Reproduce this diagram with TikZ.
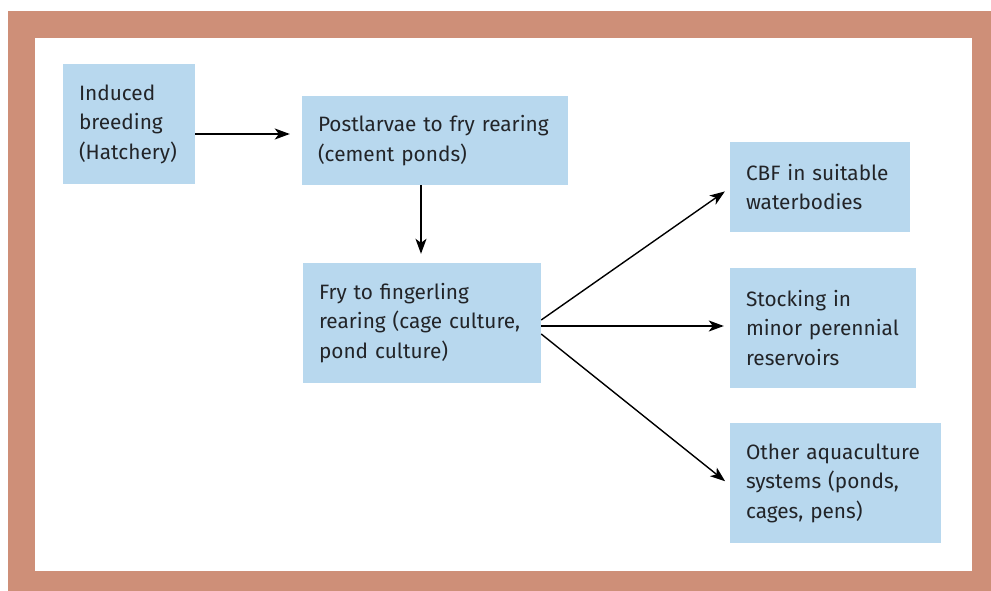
\documentclass[tikz,border=0pt]{standalone}
\usepackage{fontspec}
\setmainfont{Fira Sans}
\usetikzlibrary{arrows.meta}
\definecolor{frame}{HTML}{CE8F78}
\definecolor{boxblue}{HTML}{B8D8EE}
\definecolor{ink}{HTML}{222428}

\begin{document}
\begin{tikzpicture}[x=1pt,y=-1pt]
   \tikzstyle{stage} = [fill=boxblue, text=ink, align=left, inner xsep=16pt,
     inner ysep=0pt, font=\fontsize{20.8}{29.5}\selectfont]
   \tikzstyle{flow} = [draw, line width=1.4pt,
     -{Stealth[length=15pt,width=11pt,inset=4pt]}, shorten >= 6pt]
   \useasboundingbox (0,0) rectangle (991,591);
   \fill[frame] (8,11) rectangle (991,591);
   \fill[white] (35,38) rectangle (972,571);
   %%
   \node [stage, text width=100pt, minimum height=120pt] (hatch) at (129,124)
     {Induced\\breeding\\(Hatchery)};
   \node [stage, text width=234pt, minimum height=89pt] (post) at (435,140.5)
     {Postlarvae to fry rearing\\(cement ponds)};
   \node [stage, text width=206pt, minimum height=120pt] (fry) at (422,323)
     {Fry to fingerling\\rearing (cage culture,\\pond culture)};
   %%
   \node [stage, text width=148pt, minimum height=90pt] (cbf) at (820,187)
     {CBF in suitable\\waterbodies};
   \node [stage, text width=154pt, minimum height=120pt] (stock) at (823,328)
     {Stocking in\\minor perennial\\reservoirs};
   \node [stage, text width=179pt, minimum height=120pt] (other) at (835.5,483)
     {Other aquaculture\\systems (ponds,\\cages, pens)};
   %%
   \path [flow, shorten >= 12pt] (hatch.east |- 0,134) to (post.west |- 0,134);
   \path [flow, shorten >= 9pt] (post.south -| 421,0) to (fry.north -| 421,0);
   \path [flow] ([yshift=3pt]fry.east) to ([yshift=-1pt]cbf.west);
   \path [flow] ([yshift=-3pt]fry.east) to (stock.west |- 0,326);
   \path [flow] ([yshift=-11pt]fry.east) to ([yshift=-2pt]other.west);
\end{tikzpicture}
\end{document}
